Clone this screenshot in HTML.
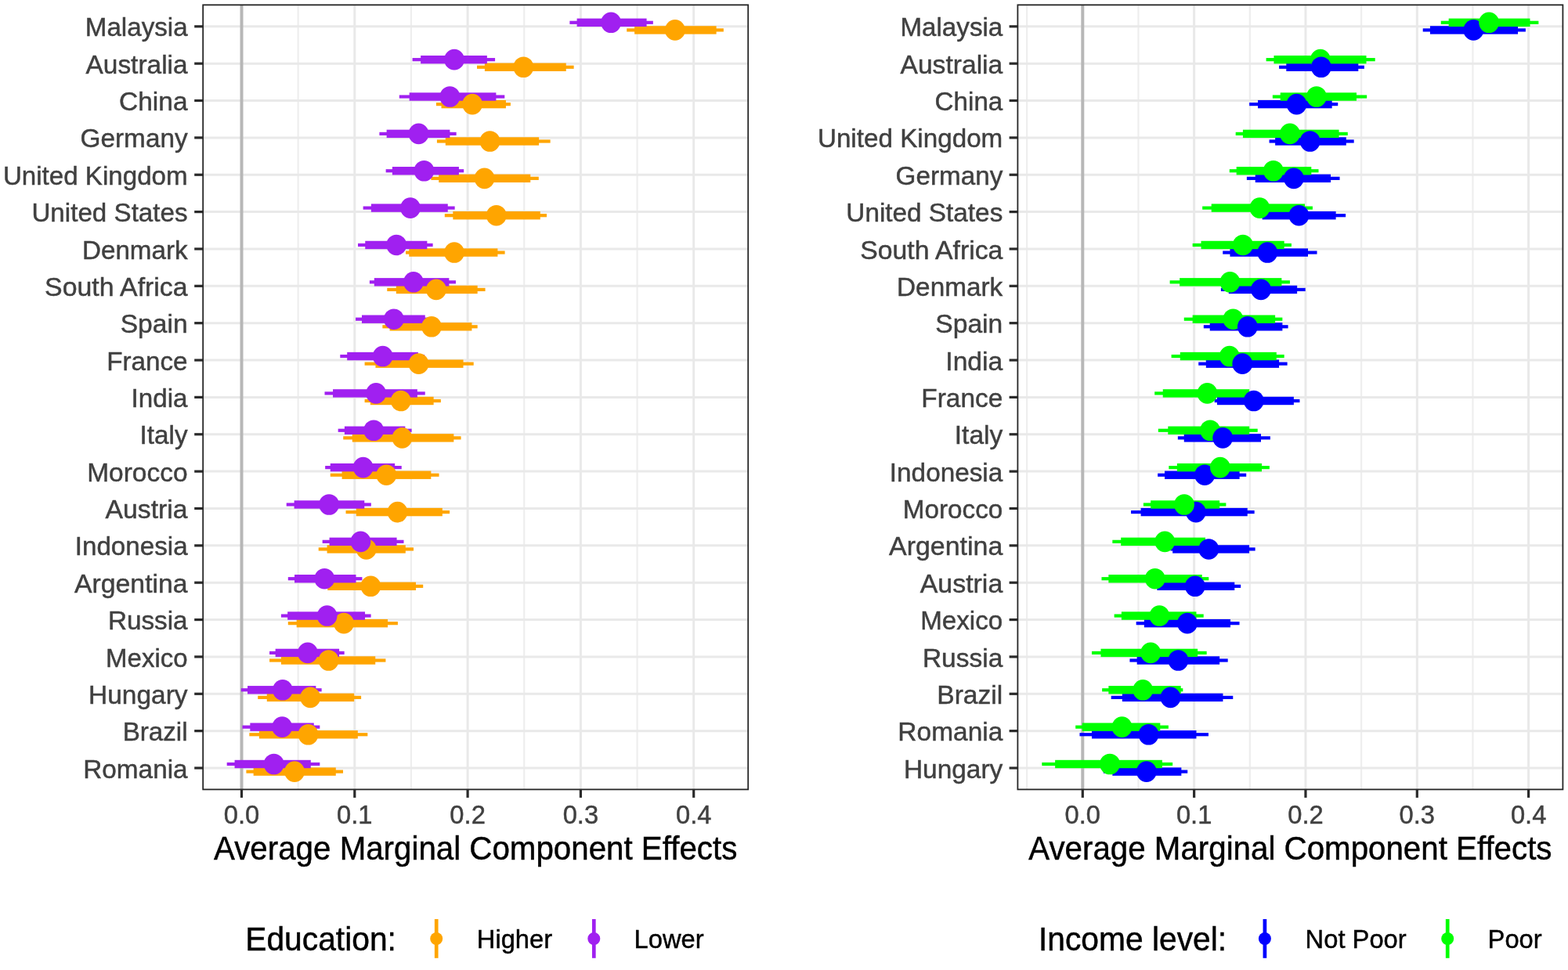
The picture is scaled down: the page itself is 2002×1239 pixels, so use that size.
<!DOCTYPE html><html><head><meta charset="utf-8"><title>AMCE plot</title>
<style>html,body{margin:0;padding:0;background:#fff;}svg{display:block;}text{font-family:'Liberation Sans', Arial, Helvetica, sans-serif;stroke-width:0.45px;}</style></head><body>
<svg width="2002" height="1239" viewBox="0 0 2002 1239">
<rect x="0" y="0" width="2002" height="1239" fill="#fff"/>
<clipPath id="clipL"><rect x="259.2" y="6.3" width="696" height="1002.1"/></clipPath>
<g clip-path="url(#clipL)">
<line x1="380.65" y1="6.3" x2="380.65" y2="1008.4" stroke="#EEEEEE" stroke-width="2.2"/>
<line x1="524.95" y1="6.3" x2="524.95" y2="1008.4" stroke="#EEEEEE" stroke-width="2.2"/>
<line x1="669.25" y1="6.3" x2="669.25" y2="1008.4" stroke="#EEEEEE" stroke-width="2.2"/>
<line x1="813.55" y1="6.3" x2="813.55" y2="1008.4" stroke="#EEEEEE" stroke-width="2.2"/>
<line x1="259.2" y1="33.8" x2="955.2" y2="33.8" stroke="#E9E9E9" stroke-width="3.0"/>
<line x1="259.2" y1="81.16" x2="955.2" y2="81.16" stroke="#E9E9E9" stroke-width="3.0"/>
<line x1="259.2" y1="128.52" x2="955.2" y2="128.52" stroke="#E9E9E9" stroke-width="3.0"/>
<line x1="259.2" y1="175.88" x2="955.2" y2="175.88" stroke="#E9E9E9" stroke-width="3.0"/>
<line x1="259.2" y1="223.24" x2="955.2" y2="223.24" stroke="#E9E9E9" stroke-width="3.0"/>
<line x1="259.2" y1="270.6" x2="955.2" y2="270.6" stroke="#E9E9E9" stroke-width="3.0"/>
<line x1="259.2" y1="317.96" x2="955.2" y2="317.96" stroke="#E9E9E9" stroke-width="3.0"/>
<line x1="259.2" y1="365.32" x2="955.2" y2="365.32" stroke="#E9E9E9" stroke-width="3.0"/>
<line x1="259.2" y1="412.68" x2="955.2" y2="412.68" stroke="#E9E9E9" stroke-width="3.0"/>
<line x1="259.2" y1="460.04" x2="955.2" y2="460.04" stroke="#E9E9E9" stroke-width="3.0"/>
<line x1="259.2" y1="507.4" x2="955.2" y2="507.4" stroke="#E9E9E9" stroke-width="3.0"/>
<line x1="259.2" y1="554.76" x2="955.2" y2="554.76" stroke="#E9E9E9" stroke-width="3.0"/>
<line x1="259.2" y1="602.12" x2="955.2" y2="602.12" stroke="#E9E9E9" stroke-width="3.0"/>
<line x1="259.2" y1="649.48" x2="955.2" y2="649.48" stroke="#E9E9E9" stroke-width="3.0"/>
<line x1="259.2" y1="696.84" x2="955.2" y2="696.84" stroke="#E9E9E9" stroke-width="3.0"/>
<line x1="259.2" y1="744.2" x2="955.2" y2="744.2" stroke="#E9E9E9" stroke-width="3.0"/>
<line x1="259.2" y1="791.56" x2="955.2" y2="791.56" stroke="#E9E9E9" stroke-width="3.0"/>
<line x1="259.2" y1="838.92" x2="955.2" y2="838.92" stroke="#E9E9E9" stroke-width="3.0"/>
<line x1="259.2" y1="886.28" x2="955.2" y2="886.28" stroke="#E9E9E9" stroke-width="3.0"/>
<line x1="259.2" y1="933.64" x2="955.2" y2="933.64" stroke="#E9E9E9" stroke-width="3.0"/>
<line x1="259.2" y1="981" x2="955.2" y2="981" stroke="#E9E9E9" stroke-width="3.0"/>
<line x1="452.8" y1="6.3" x2="452.8" y2="1008.4" stroke="#E9E9E9" stroke-width="3.0"/>
<line x1="597.1" y1="6.3" x2="597.1" y2="1008.4" stroke="#E9E9E9" stroke-width="3.0"/>
<line x1="741.4" y1="6.3" x2="741.4" y2="1008.4" stroke="#E9E9E9" stroke-width="3.0"/>
<line x1="885.7" y1="6.3" x2="885.7" y2="1008.4" stroke="#E9E9E9" stroke-width="3.0"/>
<line x1="308.5" y1="6.3" x2="308.5" y2="1008.4" stroke="#B7B7B7" stroke-width="4.0"/>
<rect x="800.22" y="36.3" width="123.63" height="4.2" fill="#FFA500"/>
<rect x="609.01" y="83.66" width="123.63" height="4.2" fill="#FFA500"/>
<rect x="556.92" y="131.02" width="94.95" height="4.2" fill="#FFA500"/>
<rect x="557.91" y="178.38" width="144.73" height="4.2" fill="#FFA500"/>
<rect x="550.33" y="225.74" width="137.47" height="4.2" fill="#FFA500"/>
<rect x="567.8" y="273.1" width="130.22" height="4.2" fill="#FFA500"/>
<rect x="518.02" y="320.46" width="126.59" height="4.2" fill="#FFA500"/>
<rect x="494.29" y="367.82" width="125.27" height="4.2" fill="#FFA500"/>
<rect x="488.35" y="415.18" width="121.32" height="4.2" fill="#FFA500"/>
<rect x="465.6" y="462.54" width="139.12" height="4.2" fill="#FFA500"/>
<rect x="465.6" y="509.9" width="97.25" height="4.2" fill="#FFA500"/>
<rect x="438.24" y="557.26" width="150.33" height="4.2" fill="#FFA500"/>
<rect x="421.76" y="604.62" width="138.79" height="4.2" fill="#FFA500"/>
<rect x="441.54" y="651.98" width="132.53" height="4.2" fill="#FFA500"/>
<rect x="406.7" y="699.34" width="121.32" height="4.2" fill="#FFA500"/>
<rect x="410" y="746.7" width="130.22" height="4.2" fill="#FFA500"/>
<rect x="367.8" y="794.06" width="140.11" height="4.2" fill="#FFA500"/>
<rect x="344.07" y="841.42" width="148.35" height="4.2" fill="#FFA500"/>
<rect x="329.23" y="888.78" width="131.87" height="4.2" fill="#FFA500"/>
<rect x="318.35" y="936.14" width="150.99" height="4.2" fill="#FFA500"/>
<rect x="314.4" y="983.5" width="123.63" height="4.2" fill="#FFA500"/>
<rect x="727.36" y="26.7" width="106.48" height="4.2" fill="#A020F0"/>
<rect x="526.59" y="74.06" width="105.49" height="4.2" fill="#A020F0"/>
<rect x="509.78" y="121.42" width="134.51" height="4.2" fill="#A020F0"/>
<rect x="484.4" y="168.78" width="98.24" height="4.2" fill="#A020F0"/>
<rect x="492.64" y="216.14" width="99.56" height="4.2" fill="#A020F0"/>
<rect x="463.63" y="263.5" width="117.03" height="4.2" fill="#A020F0"/>
<rect x="457.03" y="310.86" width="95.6" height="4.2" fill="#A020F0"/>
<rect x="471.87" y="358.22" width="110.11" height="4.2" fill="#A020F0"/>
<rect x="454.07" y="405.58" width="96.26" height="4.2" fill="#A020F0"/>
<rect x="434.29" y="452.94" width="107.8" height="4.2" fill="#A020F0"/>
<rect x="414.51" y="500.3" width="128.24" height="4.2" fill="#A020F0"/>
<rect x="431.65" y="547.66" width="93.96" height="4.2" fill="#A020F0"/>
<rect x="415.16" y="595.02" width="97.58" height="4.2" fill="#A020F0"/>
<rect x="365.71" y="642.38" width="108.13" height="4.2" fill="#A020F0"/>
<rect x="411.65" y="689.74" width="103.85" height="4.2" fill="#A020F0"/>
<rect x="367.8" y="737.1" width="94.62" height="4.2" fill="#A020F0"/>
<rect x="358.9" y="784.46" width="114.73" height="4.2" fill="#A020F0"/>
<rect x="344.07" y="831.82" width="95.6" height="4.2" fill="#A020F0"/>
<rect x="307.8" y="879.18" width="102.86" height="4.2" fill="#A020F0"/>
<rect x="309.45" y="926.54" width="98.9" height="4.2" fill="#A020F0"/>
<rect x="289.67" y="973.9" width="118.68" height="4.2" fill="#A020F0"/>
<rect x="810.11" y="33.2" width="104.51" height="10.4" fill="#FFA500"/>
<rect x="618.9" y="80.56" width="103.85" height="10.4" fill="#FFA500"/>
<rect x="563.52" y="127.92" width="82.42" height="10.4" fill="#FFA500"/>
<rect x="568.79" y="175.28" width="119.34" height="10.4" fill="#FFA500"/>
<rect x="560.22" y="222.64" width="117.03" height="10.4" fill="#FFA500"/>
<rect x="578.35" y="270" width="111.43" height="10.4" fill="#FFA500"/>
<rect x="522.31" y="317.36" width="113.08" height="10.4" fill="#FFA500"/>
<rect x="505.82" y="364.72" width="103.85" height="10.4" fill="#FFA500"/>
<rect x="497.58" y="412.08" width="104.84" height="10.4" fill="#FFA500"/>
<rect x="479.45" y="459.44" width="112.09" height="10.4" fill="#FFA500"/>
<rect x="472.86" y="506.8" width="80.77" height="10.4" fill="#FFA500"/>
<rect x="449.78" y="554.16" width="129.56" height="10.4" fill="#FFA500"/>
<rect x="436.59" y="601.52" width="113.74" height="10.4" fill="#FFA500"/>
<rect x="454.73" y="648.88" width="110.11" height="10.4" fill="#FFA500"/>
<rect x="417.58" y="696.24" width="100.22" height="10.4" fill="#FFA500"/>
<rect x="418.24" y="743.6" width="112.75" height="10.4" fill="#FFA500"/>
<rect x="378.68" y="790.96" width="116.37" height="10.4" fill="#FFA500"/>
<rect x="358.9" y="838.32" width="120.33" height="10.4" fill="#FFA500"/>
<rect x="340.77" y="885.68" width="111.43" height="10.4" fill="#FFA500"/>
<rect x="330.88" y="933.04" width="125.93" height="10.4" fill="#FFA500"/>
<rect x="323.63" y="980.4" width="105.16" height="10.4" fill="#FFA500"/>
<rect x="736.59" y="23.6" width="89.01" height="10.4" fill="#A020F0"/>
<rect x="537.14" y="70.96" width="84.73" height="10.4" fill="#A020F0"/>
<rect x="522.64" y="118.32" width="110.77" height="10.4" fill="#A020F0"/>
<rect x="493.63" y="165.68" width="80.77" height="10.4" fill="#A020F0"/>
<rect x="500.88" y="213.04" width="85.05" height="10.4" fill="#A020F0"/>
<rect x="473.85" y="260.4" width="97.91" height="10.4" fill="#A020F0"/>
<rect x="466.26" y="307.76" width="79.12" height="10.4" fill="#A020F0"/>
<rect x="477.8" y="355.12" width="95.6" height="10.4" fill="#A020F0"/>
<rect x="461.98" y="402.48" width="80.77" height="10.4" fill="#A020F0"/>
<rect x="443.19" y="449.84" width="90.66" height="10.4" fill="#A020F0"/>
<rect x="425.05" y="497.2" width="107.8" height="10.4" fill="#A020F0"/>
<rect x="439.89" y="544.56" width="77.47" height="10.4" fill="#A020F0"/>
<rect x="421.76" y="591.92" width="82.42" height="10.4" fill="#A020F0"/>
<rect x="375.6" y="639.28" width="89.67" height="10.4" fill="#A020F0"/>
<rect x="420.55" y="686.64" width="86.04" height="10.4" fill="#A020F0"/>
<rect x="376.04" y="734" width="78.46" height="10.4" fill="#A020F0"/>
<rect x="367.14" y="781.36" width="98.9" height="10.4" fill="#A020F0"/>
<rect x="351.65" y="828.72" width="81.43" height="10.4" fill="#A020F0"/>
<rect x="316.04" y="876.08" width="87.36" height="10.4" fill="#A020F0"/>
<rect x="319.34" y="923.44" width="81.43" height="10.4" fill="#A020F0"/>
<rect x="299.56" y="970.8" width="97.25" height="10.4" fill="#A020F0"/>
<ellipse cx="861.87" cy="38.4" rx="12.9" ry="13.3" fill="#FFA500"/>
<ellipse cx="780.11" cy="28.8" rx="12.9" ry="13.3" fill="#A020F0"/>
<ellipse cx="668.35" cy="85.76" rx="12.9" ry="13.3" fill="#FFA500"/>
<ellipse cx="580" cy="76.16" rx="12.9" ry="13.3" fill="#A020F0"/>
<ellipse cx="603.08" cy="133.12" rx="12.9" ry="13.3" fill="#FFA500"/>
<ellipse cx="574.4" cy="123.52" rx="12.9" ry="13.3" fill="#A020F0"/>
<ellipse cx="625.49" cy="180.48" rx="12.9" ry="13.3" fill="#FFA500"/>
<ellipse cx="534.51" cy="170.88" rx="12.9" ry="13.3" fill="#A020F0"/>
<ellipse cx="618.57" cy="227.84" rx="12.9" ry="13.3" fill="#FFA500"/>
<ellipse cx="541.43" cy="218.24" rx="12.9" ry="13.3" fill="#A020F0"/>
<ellipse cx="633.74" cy="275.2" rx="12.9" ry="13.3" fill="#FFA500"/>
<ellipse cx="523.96" cy="265.6" rx="12.9" ry="13.3" fill="#A020F0"/>
<ellipse cx="580" cy="322.56" rx="12.9" ry="13.3" fill="#FFA500"/>
<ellipse cx="506.15" cy="312.96" rx="12.9" ry="13.3" fill="#A020F0"/>
<ellipse cx="556.92" cy="369.92" rx="12.9" ry="13.3" fill="#FFA500"/>
<ellipse cx="527.91" cy="360.32" rx="12.9" ry="13.3" fill="#A020F0"/>
<ellipse cx="550.99" cy="417.28" rx="12.9" ry="13.3" fill="#FFA500"/>
<ellipse cx="502.86" cy="407.68" rx="12.9" ry="13.3" fill="#A020F0"/>
<ellipse cx="534.51" cy="464.64" rx="12.9" ry="13.3" fill="#FFA500"/>
<ellipse cx="488.68" cy="455.04" rx="12.9" ry="13.3" fill="#A020F0"/>
<ellipse cx="511.76" cy="512" rx="12.9" ry="13.3" fill="#FFA500"/>
<ellipse cx="480.11" cy="502.4" rx="12.9" ry="13.3" fill="#A020F0"/>
<ellipse cx="513.41" cy="559.36" rx="12.9" ry="13.3" fill="#FFA500"/>
<ellipse cx="477.14" cy="549.76" rx="12.9" ry="13.3" fill="#A020F0"/>
<ellipse cx="493.3" cy="606.72" rx="12.9" ry="13.3" fill="#FFA500"/>
<ellipse cx="463.63" cy="597.12" rx="12.9" ry="13.3" fill="#A020F0"/>
<ellipse cx="507.47" cy="654.08" rx="12.9" ry="13.3" fill="#FFA500"/>
<ellipse cx="420.11" cy="644.48" rx="12.9" ry="13.3" fill="#A020F0"/>
<ellipse cx="467.69" cy="701.44" rx="12.9" ry="13.3" fill="#FFA500"/>
<ellipse cx="460.44" cy="691.84" rx="12.9" ry="13.3" fill="#A020F0"/>
<ellipse cx="473.3" cy="748.8" rx="12.9" ry="13.3" fill="#FFA500"/>
<ellipse cx="414.29" cy="739.2" rx="12.9" ry="13.3" fill="#A020F0"/>
<ellipse cx="439.01" cy="796.16" rx="12.9" ry="13.3" fill="#FFA500"/>
<ellipse cx="417.58" cy="786.56" rx="12.9" ry="13.3" fill="#A020F0"/>
<ellipse cx="419.56" cy="843.52" rx="12.9" ry="13.3" fill="#FFA500"/>
<ellipse cx="392.86" cy="833.92" rx="12.9" ry="13.3" fill="#A020F0"/>
<ellipse cx="396.15" cy="890.88" rx="12.9" ry="13.3" fill="#FFA500"/>
<ellipse cx="360.88" cy="881.28" rx="12.9" ry="13.3" fill="#A020F0"/>
<ellipse cx="393.52" cy="938.24" rx="12.9" ry="13.3" fill="#FFA500"/>
<ellipse cx="360.22" cy="928.64" rx="12.9" ry="13.3" fill="#A020F0"/>
<ellipse cx="376.04" cy="985.6" rx="12.9" ry="13.3" fill="#FFA500"/>
<ellipse cx="349.67" cy="976" rx="12.9" ry="13.3" fill="#A020F0"/>
</g>
<rect x="259.2" y="6.3" width="696" height="1002.1" fill="none" stroke="#262626" stroke-width="1.8"/>
<line x1="248.2" y1="33.8" x2="259.2" y2="33.8" stroke="#2a2a2a" stroke-width="3.2"/>
<text transform="translate(239.6 46.4) scale(1.0137 1.04)" font-size="32.7" fill="#404040" stroke="#404040" text-anchor="end">Malaysia</text>
<line x1="248.2" y1="81.16" x2="259.2" y2="81.16" stroke="#2a2a2a" stroke-width="3.2"/>
<text transform="translate(239.6 93.76) scale(1.0231 1.04)" font-size="32.7" fill="#404040" stroke="#404040" text-anchor="end">Australia</text>
<line x1="248.2" y1="128.52" x2="259.2" y2="128.52" stroke="#2a2a2a" stroke-width="3.2"/>
<text transform="translate(239.6 141.12) scale(1.0259 1.04)" font-size="32.7" fill="#404040" stroke="#404040" text-anchor="end">China</text>
<line x1="248.2" y1="175.88" x2="259.2" y2="175.88" stroke="#2a2a2a" stroke-width="3.2"/>
<text transform="translate(239.6 188.48) scale(1.0195 1.04)" font-size="32.7" fill="#404040" stroke="#404040" text-anchor="end">Germany</text>
<line x1="248.2" y1="223.24" x2="259.2" y2="223.24" stroke="#2a2a2a" stroke-width="3.2"/>
<text transform="translate(239.6 235.84) scale(1.0135 1.04)" font-size="32.7" fill="#404040" stroke="#404040" text-anchor="end">United Kingdom</text>
<line x1="248.2" y1="270.6" x2="259.2" y2="270.6" stroke="#2a2a2a" stroke-width="3.2"/>
<text transform="translate(239.6 283.2) scale(1.015 1.04)" font-size="32.7" fill="#404040" stroke="#404040" text-anchor="end">United States</text>
<line x1="248.2" y1="317.96" x2="259.2" y2="317.96" stroke="#2a2a2a" stroke-width="3.2"/>
<text transform="translate(239.6 330.56) scale(1.0154 1.04)" font-size="32.7" fill="#404040" stroke="#404040" text-anchor="end">Denmark</text>
<line x1="248.2" y1="365.32" x2="259.2" y2="365.32" stroke="#2a2a2a" stroke-width="3.2"/>
<text transform="translate(239.6 377.92) scale(1.0357 1.04)" font-size="32.7" fill="#404040" stroke="#404040" text-anchor="end">South Africa</text>
<line x1="248.2" y1="412.68" x2="259.2" y2="412.68" stroke="#2a2a2a" stroke-width="3.2"/>
<text transform="translate(239.6 425.28) scale(1.0275 1.04)" font-size="32.7" fill="#404040" stroke="#404040" text-anchor="end">Spain</text>
<line x1="248.2" y1="460.04" x2="259.2" y2="460.04" stroke="#2a2a2a" stroke-width="3.2"/>
<text transform="translate(239.6 472.64) scale(1.0163 1.04)" font-size="32.7" fill="#404040" stroke="#404040" text-anchor="end">France</text>
<line x1="248.2" y1="507.4" x2="259.2" y2="507.4" stroke="#2a2a2a" stroke-width="3.2"/>
<text transform="translate(239.6 520) scale(1.0167 1.04)" font-size="32.7" fill="#404040" stroke="#404040" text-anchor="end">India</text>
<line x1="248.2" y1="554.76" x2="259.2" y2="554.76" stroke="#2a2a2a" stroke-width="3.2"/>
<text transform="translate(239.6 567.36) scale(1.0172 1.04)" font-size="32.7" fill="#404040" stroke="#404040" text-anchor="end">Italy</text>
<line x1="248.2" y1="602.12" x2="259.2" y2="602.12" stroke="#2a2a2a" stroke-width="3.2"/>
<text transform="translate(239.6 614.72) scale(1.0246 1.04)" font-size="32.7" fill="#404040" stroke="#404040" text-anchor="end">Morocco</text>
<line x1="248.2" y1="649.48" x2="259.2" y2="649.48" stroke="#2a2a2a" stroke-width="3.2"/>
<text transform="translate(239.6 662.08) scale(1.0323 1.04)" font-size="32.7" fill="#404040" stroke="#404040" text-anchor="end">Austria</text>
<line x1="248.2" y1="696.84" x2="259.2" y2="696.84" stroke="#2a2a2a" stroke-width="3.2"/>
<text transform="translate(239.6 709.44) scale(1.0146 1.04)" font-size="32.7" fill="#404040" stroke="#404040" text-anchor="end">Indonesia</text>
<line x1="248.2" y1="744.2" x2="259.2" y2="744.2" stroke="#2a2a2a" stroke-width="3.2"/>
<text transform="translate(239.6 756.8) scale(1.0336 1.04)" font-size="32.7" fill="#404040" stroke="#404040" text-anchor="end">Argentina</text>
<line x1="248.2" y1="791.56" x2="259.2" y2="791.56" stroke="#2a2a2a" stroke-width="3.2"/>
<text transform="translate(239.6 804.16) scale(1.0179 1.04)" font-size="32.7" fill="#404040" stroke="#404040" text-anchor="end">Russia</text>
<line x1="248.2" y1="838.92" x2="259.2" y2="838.92" stroke="#2a2a2a" stroke-width="3.2"/>
<text transform="translate(239.6 851.52) scale(1.009 1.04)" font-size="32.7" fill="#404040" stroke="#404040" text-anchor="end">Mexico</text>
<line x1="248.2" y1="886.28" x2="259.2" y2="886.28" stroke="#2a2a2a" stroke-width="3.2"/>
<text transform="translate(239.6 898.88) scale(1.0246 1.04)" font-size="32.7" fill="#404040" stroke="#404040" text-anchor="end">Hungary</text>
<line x1="248.2" y1="933.64" x2="259.2" y2="933.64" stroke="#2a2a2a" stroke-width="3.2"/>
<text transform="translate(239.6 946.24) scale(1.0141 1.04)" font-size="32.7" fill="#404040" stroke="#404040" text-anchor="end">Brazil</text>
<line x1="248.2" y1="981" x2="259.2" y2="981" stroke="#2a2a2a" stroke-width="3.2"/>
<text transform="translate(239.6 993.6) scale(1.019 1.04)" font-size="32.7" fill="#404040" stroke="#404040" text-anchor="end">Romania</text>
<line x1="308.5" y1="1008.4" x2="308.5" y2="1018.9" stroke="#2a2a2a" stroke-width="3.2"/>
<text transform="translate(308.5 1052.1) scale(1 1.04)" font-size="32.7" fill="#404040" stroke="#404040" text-anchor="middle">0.0</text>
<line x1="452.8" y1="1008.4" x2="452.8" y2="1018.9" stroke="#2a2a2a" stroke-width="3.2"/>
<text transform="translate(452.8 1052.1) scale(1 1.04)" font-size="32.7" fill="#404040" stroke="#404040" text-anchor="middle">0.1</text>
<line x1="597.1" y1="1008.4" x2="597.1" y2="1018.9" stroke="#2a2a2a" stroke-width="3.2"/>
<text transform="translate(597.1 1052.1) scale(1 1.04)" font-size="32.7" fill="#404040" stroke="#404040" text-anchor="middle">0.2</text>
<line x1="741.4" y1="1008.4" x2="741.4" y2="1018.9" stroke="#2a2a2a" stroke-width="3.2"/>
<text transform="translate(741.4 1052.1) scale(1 1.04)" font-size="32.7" fill="#404040" stroke="#404040" text-anchor="middle">0.3</text>
<line x1="885.7" y1="1008.4" x2="885.7" y2="1018.9" stroke="#2a2a2a" stroke-width="3.2"/>
<text transform="translate(885.7 1052.1) scale(1 1.04)" font-size="32.7" fill="#404040" stroke="#404040" text-anchor="middle">0.4</text>
<text transform="translate(607.2 1097.8) scale(1 1.04)" font-size="40.3" fill="#000" stroke="#000" text-anchor="middle">Average Marginal Component Effects</text>
<clipPath id="clipR"><rect x="1299.4" y="6.3" width="696" height="1002.1"/></clipPath>
<g clip-path="url(#clipR)">
<line x1="1311.13" y1="6.3" x2="1311.13" y2="1008.4" stroke="#EEEEEE" stroke-width="2.2"/>
<line x1="1453.46" y1="6.3" x2="1453.46" y2="1008.4" stroke="#EEEEEE" stroke-width="2.2"/>
<line x1="1595.8" y1="6.3" x2="1595.8" y2="1008.4" stroke="#EEEEEE" stroke-width="2.2"/>
<line x1="1738.12" y1="6.3" x2="1738.12" y2="1008.4" stroke="#EEEEEE" stroke-width="2.2"/>
<line x1="1880.45" y1="6.3" x2="1880.45" y2="1008.4" stroke="#EEEEEE" stroke-width="2.2"/>
<line x1="1299.4" y1="33.8" x2="1995.4" y2="33.8" stroke="#E9E9E9" stroke-width="3.0"/>
<line x1="1299.4" y1="81.16" x2="1995.4" y2="81.16" stroke="#E9E9E9" stroke-width="3.0"/>
<line x1="1299.4" y1="128.52" x2="1995.4" y2="128.52" stroke="#E9E9E9" stroke-width="3.0"/>
<line x1="1299.4" y1="175.88" x2="1995.4" y2="175.88" stroke="#E9E9E9" stroke-width="3.0"/>
<line x1="1299.4" y1="223.24" x2="1995.4" y2="223.24" stroke="#E9E9E9" stroke-width="3.0"/>
<line x1="1299.4" y1="270.6" x2="1995.4" y2="270.6" stroke="#E9E9E9" stroke-width="3.0"/>
<line x1="1299.4" y1="317.96" x2="1995.4" y2="317.96" stroke="#E9E9E9" stroke-width="3.0"/>
<line x1="1299.4" y1="365.32" x2="1995.4" y2="365.32" stroke="#E9E9E9" stroke-width="3.0"/>
<line x1="1299.4" y1="412.68" x2="1995.4" y2="412.68" stroke="#E9E9E9" stroke-width="3.0"/>
<line x1="1299.4" y1="460.04" x2="1995.4" y2="460.04" stroke="#E9E9E9" stroke-width="3.0"/>
<line x1="1299.4" y1="507.4" x2="1995.4" y2="507.4" stroke="#E9E9E9" stroke-width="3.0"/>
<line x1="1299.4" y1="554.76" x2="1995.4" y2="554.76" stroke="#E9E9E9" stroke-width="3.0"/>
<line x1="1299.4" y1="602.12" x2="1995.4" y2="602.12" stroke="#E9E9E9" stroke-width="3.0"/>
<line x1="1299.4" y1="649.48" x2="1995.4" y2="649.48" stroke="#E9E9E9" stroke-width="3.0"/>
<line x1="1299.4" y1="696.84" x2="1995.4" y2="696.84" stroke="#E9E9E9" stroke-width="3.0"/>
<line x1="1299.4" y1="744.2" x2="1995.4" y2="744.2" stroke="#E9E9E9" stroke-width="3.0"/>
<line x1="1299.4" y1="791.56" x2="1995.4" y2="791.56" stroke="#E9E9E9" stroke-width="3.0"/>
<line x1="1299.4" y1="838.92" x2="1995.4" y2="838.92" stroke="#E9E9E9" stroke-width="3.0"/>
<line x1="1299.4" y1="886.28" x2="1995.4" y2="886.28" stroke="#E9E9E9" stroke-width="3.0"/>
<line x1="1299.4" y1="933.64" x2="1995.4" y2="933.64" stroke="#E9E9E9" stroke-width="3.0"/>
<line x1="1299.4" y1="981" x2="1995.4" y2="981" stroke="#E9E9E9" stroke-width="3.0"/>
<line x1="1524.63" y1="6.3" x2="1524.63" y2="1008.4" stroke="#E9E9E9" stroke-width="3.0"/>
<line x1="1666.96" y1="6.3" x2="1666.96" y2="1008.4" stroke="#E9E9E9" stroke-width="3.0"/>
<line x1="1809.29" y1="6.3" x2="1809.29" y2="1008.4" stroke="#E9E9E9" stroke-width="3.0"/>
<line x1="1951.62" y1="6.3" x2="1951.62" y2="1008.4" stroke="#E9E9E9" stroke-width="3.0"/>
<line x1="1382.3" y1="6.3" x2="1382.3" y2="1008.4" stroke="#B7B7B7" stroke-width="4.0"/>
<rect x="1816.7" y="36.3" width="131.21" height="4.2" fill="#0000FF"/>
<rect x="1633.08" y="83.66" width="108.79" height="4.2" fill="#0000FF"/>
<rect x="1595.16" y="131.02" width="113.08" height="4.2" fill="#0000FF"/>
<rect x="1620.55" y="178.38" width="108.13" height="4.2" fill="#0000FF"/>
<rect x="1591.87" y="225.74" width="118.68" height="4.2" fill="#0000FF"/>
<rect x="1608.35" y="273.1" width="109.78" height="4.2" fill="#0000FF"/>
<rect x="1561.21" y="320.46" width="120.33" height="4.2" fill="#0000FF"/>
<rect x="1558.9" y="367.82" width="107.8" height="4.2" fill="#0000FF"/>
<rect x="1536.81" y="415.18" width="107.8" height="4.2" fill="#0000FF"/>
<rect x="1530.22" y="462.54" width="113.41" height="4.2" fill="#0000FF"/>
<rect x="1550.66" y="509.9" width="108.79" height="4.2" fill="#0000FF"/>
<rect x="1503.85" y="557.26" width="118.02" height="4.2" fill="#0000FF"/>
<rect x="1478.13" y="604.62" width="113.08" height="4.2" fill="#0000FF"/>
<rect x="1444.07" y="651.98" width="157.58" height="4.2" fill="#0000FF"/>
<rect x="1494.51" y="699.34" width="108.13" height="4.2" fill="#0000FF"/>
<rect x="1474.73" y="746.7" width="109.45" height="4.2" fill="#0000FF"/>
<rect x="1450.66" y="794.06" width="131.87" height="4.2" fill="#0000FF"/>
<rect x="1442.42" y="841.42" width="125.27" height="4.2" fill="#0000FF"/>
<rect x="1418.68" y="888.78" width="155.6" height="4.2" fill="#0000FF"/>
<rect x="1378.46" y="936.14" width="164.51" height="4.2" fill="#0000FF"/>
<rect x="1408.79" y="983.5" width="107.47" height="4.2" fill="#0000FF"/>
<rect x="1839.78" y="26.7" width="124.62" height="4.2" fill="#00FF00"/>
<rect x="1616.59" y="74.06" width="139.12" height="4.2" fill="#00FF00"/>
<rect x="1624.84" y="121.42" width="120.33" height="4.2" fill="#00FF00"/>
<rect x="1577.69" y="168.78" width="143.08" height="4.2" fill="#00FF00"/>
<rect x="1569.78" y="216.14" width="113.74" height="4.2" fill="#00FF00"/>
<rect x="1535.16" y="263.5" width="140.77" height="4.2" fill="#00FF00"/>
<rect x="1522.64" y="310.86" width="126.26" height="4.2" fill="#00FF00"/>
<rect x="1493.63" y="358.22" width="153.3" height="4.2" fill="#00FF00"/>
<rect x="1511.76" y="405.58" width="125.6" height="4.2" fill="#00FF00"/>
<rect x="1495.6" y="452.94" width="144.07" height="4.2" fill="#00FF00"/>
<rect x="1474.18" y="500.3" width="129.23" height="4.2" fill="#00FF00"/>
<rect x="1478.79" y="547.66" width="126.92" height="4.2" fill="#00FF00"/>
<rect x="1492.31" y="595.02" width="128.57" height="4.2" fill="#00FF00"/>
<rect x="1459.89" y="642.38" width="105.49" height="4.2" fill="#00FF00"/>
<rect x="1420.33" y="689.74" width="123.63" height="4.2" fill="#00FF00"/>
<rect x="1406.48" y="737.1" width="136.81" height="4.2" fill="#00FF00"/>
<rect x="1422.64" y="784.46" width="114.07" height="4.2" fill="#00FF00"/>
<rect x="1393.96" y="831.82" width="146.7" height="4.2" fill="#00FF00"/>
<rect x="1407.14" y="879.18" width="103.19" height="4.2" fill="#00FF00"/>
<rect x="1373.19" y="926.54" width="118.68" height="4.2" fill="#00FF00"/>
<rect x="1330.33" y="973.9" width="166.81" height="4.2" fill="#00FF00"/>
<rect x="1825.93" y="33.2" width="112.09" height="10.4" fill="#0000FF"/>
<rect x="1642.31" y="80.56" width="91.98" height="10.4" fill="#0000FF"/>
<rect x="1606.04" y="127.92" width="94.62" height="10.4" fill="#0000FF"/>
<rect x="1628.13" y="175.28" width="90.66" height="10.4" fill="#0000FF"/>
<rect x="1602.75" y="222.64" width="96.26" height="10.4" fill="#0000FF"/>
<rect x="1611.65" y="270" width="93.96" height="10.4" fill="#0000FF"/>
<rect x="1570.44" y="317.36" width="99.56" height="10.4" fill="#0000FF"/>
<rect x="1568.79" y="364.72" width="87.36" height="10.4" fill="#0000FF"/>
<rect x="1544.73" y="412.08" width="92.64" height="10.4" fill="#0000FF"/>
<rect x="1539.78" y="459.44" width="93.3" height="10.4" fill="#0000FF"/>
<rect x="1553.96" y="506.8" width="97.91" height="10.4" fill="#0000FF"/>
<rect x="1511.76" y="554.16" width="98.24" height="10.4" fill="#0000FF"/>
<rect x="1487.03" y="601.52" width="95.6" height="10.4" fill="#0000FF"/>
<rect x="1456.59" y="648.88" width="136.15" height="10.4" fill="#0000FF"/>
<rect x="1497.14" y="696.24" width="97.91" height="10.4" fill="#0000FF"/>
<rect x="1477.36" y="743.6" width="98.9" height="10.4" fill="#0000FF"/>
<rect x="1460.88" y="790.96" width="110.11" height="10.4" fill="#0000FF"/>
<rect x="1451.65" y="838.32" width="105.49" height="10.4" fill="#0000FF"/>
<rect x="1432.86" y="885.68" width="128.57" height="10.4" fill="#0000FF"/>
<rect x="1393.96" y="933.04" width="133.52" height="10.4" fill="#0000FF"/>
<rect x="1420.33" y="980.4" width="88.02" height="10.4" fill="#0000FF"/>
<rect x="1849.67" y="23.6" width="103.85" height="10.4" fill="#00FF00"/>
<rect x="1626.48" y="70.96" width="118.02" height="10.4" fill="#00FF00"/>
<rect x="1634.73" y="118.32" width="97.25" height="10.4" fill="#00FF00"/>
<rect x="1586.92" y="165.68" width="122.64" height="10.4" fill="#00FF00"/>
<rect x="1578.68" y="213.04" width="95.6" height="10.4" fill="#00FF00"/>
<rect x="1546.7" y="260.4" width="119.34" height="10.4" fill="#00FF00"/>
<rect x="1533.52" y="307.76" width="106.15" height="10.4" fill="#00FF00"/>
<rect x="1506.15" y="355.12" width="130.22" height="10.4" fill="#00FF00"/>
<rect x="1522.64" y="402.48" width="105.49" height="10.4" fill="#00FF00"/>
<rect x="1506.81" y="449.84" width="122.97" height="10.4" fill="#00FF00"/>
<rect x="1484.73" y="497.2" width="110.44" height="10.4" fill="#00FF00"/>
<rect x="1491.32" y="544.56" width="103.85" height="10.4" fill="#00FF00"/>
<rect x="1502.86" y="591.92" width="108.13" height="10.4" fill="#00FF00"/>
<rect x="1469.12" y="639.28" width="88.02" height="10.4" fill="#00FF00"/>
<rect x="1431.21" y="686.64" width="107.8" height="10.4" fill="#00FF00"/>
<rect x="1415.38" y="734" width="119.34" height="10.4" fill="#00FF00"/>
<rect x="1431.87" y="781.36" width="95.6" height="10.4" fill="#00FF00"/>
<rect x="1405.49" y="828.72" width="123.63" height="10.4" fill="#00FF00"/>
<rect x="1415.38" y="876.08" width="92.31" height="10.4" fill="#00FF00"/>
<rect x="1381.76" y="923.44" width="99.56" height="10.4" fill="#00FF00"/>
<rect x="1347.14" y="970.8" width="136.81" height="10.4" fill="#00FF00"/>
<ellipse cx="1881.32" cy="38.4" rx="12.9" ry="13.3" fill="#0000FF"/>
<ellipse cx="1901.1" cy="28.8" rx="12.9" ry="13.3" fill="#00FF00"/>
<ellipse cx="1685.82" cy="76.16" rx="12.9" ry="13.3" fill="#00FF00"/>
<ellipse cx="1686.81" cy="85.76" rx="12.9" ry="13.3" fill="#0000FF"/>
<ellipse cx="1655.49" cy="133.12" rx="12.9" ry="13.3" fill="#0000FF"/>
<ellipse cx="1680.88" cy="123.52" rx="12.9" ry="13.3" fill="#00FF00"/>
<ellipse cx="1646.92" cy="170.88" rx="12.9" ry="13.3" fill="#00FF00"/>
<ellipse cx="1672.64" cy="180.48" rx="12.9" ry="13.3" fill="#0000FF"/>
<ellipse cx="1625.82" cy="218.24" rx="12.9" ry="13.3" fill="#00FF00"/>
<ellipse cx="1651.87" cy="227.84" rx="12.9" ry="13.3" fill="#0000FF"/>
<ellipse cx="1608.35" cy="265.6" rx="12.9" ry="13.3" fill="#00FF00"/>
<ellipse cx="1658.46" cy="275.2" rx="12.9" ry="13.3" fill="#0000FF"/>
<ellipse cx="1586.92" cy="312.96" rx="12.9" ry="13.3" fill="#00FF00"/>
<ellipse cx="1618.24" cy="322.56" rx="12.9" ry="13.3" fill="#0000FF"/>
<ellipse cx="1570.44" cy="360.32" rx="12.9" ry="13.3" fill="#00FF00"/>
<ellipse cx="1610" cy="369.92" rx="12.9" ry="13.3" fill="#0000FF"/>
<ellipse cx="1574.4" cy="407.68" rx="12.9" ry="13.3" fill="#00FF00"/>
<ellipse cx="1592.86" cy="417.28" rx="12.9" ry="13.3" fill="#0000FF"/>
<ellipse cx="1569.78" cy="455.04" rx="12.9" ry="13.3" fill="#00FF00"/>
<ellipse cx="1586.26" cy="464.64" rx="12.9" ry="13.3" fill="#0000FF"/>
<ellipse cx="1541.43" cy="502.4" rx="12.9" ry="13.3" fill="#00FF00"/>
<ellipse cx="1600.77" cy="512" rx="12.9" ry="13.3" fill="#0000FF"/>
<ellipse cx="1545.05" cy="549.76" rx="12.9" ry="13.3" fill="#00FF00"/>
<ellipse cx="1561.21" cy="559.36" rx="12.9" ry="13.3" fill="#0000FF"/>
<ellipse cx="1538.13" cy="606.72" rx="12.9" ry="13.3" fill="#0000FF"/>
<ellipse cx="1557.91" cy="597.12" rx="12.9" ry="13.3" fill="#00FF00"/>
<ellipse cx="1526.81" cy="654.08" rx="12.9" ry="13.3" fill="#0000FF"/>
<ellipse cx="1511.98" cy="644.48" rx="12.9" ry="13.3" fill="#00FF00"/>
<ellipse cx="1487.25" cy="691.84" rx="12.9" ry="13.3" fill="#00FF00"/>
<ellipse cx="1543.3" cy="701.44" rx="12.9" ry="13.3" fill="#0000FF"/>
<ellipse cx="1474.73" cy="739.2" rx="12.9" ry="13.3" fill="#00FF00"/>
<ellipse cx="1525.82" cy="748.8" rx="12.9" ry="13.3" fill="#0000FF"/>
<ellipse cx="1480.33" cy="786.56" rx="12.9" ry="13.3" fill="#00FF00"/>
<ellipse cx="1515.93" cy="796.16" rx="12.9" ry="13.3" fill="#0000FF"/>
<ellipse cx="1469.12" cy="833.92" rx="12.9" ry="13.3" fill="#00FF00"/>
<ellipse cx="1504.4" cy="843.52" rx="12.9" ry="13.3" fill="#0000FF"/>
<ellipse cx="1459.23" cy="881.28" rx="12.9" ry="13.3" fill="#00FF00"/>
<ellipse cx="1494.51" cy="890.88" rx="12.9" ry="13.3" fill="#0000FF"/>
<ellipse cx="1432.53" cy="928.64" rx="12.9" ry="13.3" fill="#00FF00"/>
<ellipse cx="1466.48" cy="938.24" rx="12.9" ry="13.3" fill="#0000FF"/>
<ellipse cx="1417.03" cy="976" rx="12.9" ry="13.3" fill="#00FF00"/>
<ellipse cx="1463.85" cy="985.6" rx="12.9" ry="13.3" fill="#0000FF"/>
</g>
<rect x="1299.4" y="6.3" width="696" height="1002.1" fill="none" stroke="#262626" stroke-width="1.8"/>
<line x1="1288.6" y1="33.8" x2="1299.4" y2="33.8" stroke="#2a2a2a" stroke-width="3.2"/>
<text transform="translate(1280.3 46.4) scale(1.0145 1.04)" font-size="32.7" fill="#404040" stroke="#404040" text-anchor="end">Malaysia</text>
<line x1="1288.6" y1="81.16" x2="1299.4" y2="81.16" stroke="#2a2a2a" stroke-width="3.2"/>
<text transform="translate(1280.3 93.76) scale(1.0289 1.04)" font-size="32.7" fill="#404040" stroke="#404040" text-anchor="end">Australia</text>
<line x1="1288.6" y1="128.52" x2="1299.4" y2="128.52" stroke="#2a2a2a" stroke-width="3.2"/>
<text transform="translate(1280.3 141.12) scale(1.0146 1.04)" font-size="32.7" fill="#404040" stroke="#404040" text-anchor="end">China</text>
<line x1="1288.6" y1="175.88" x2="1299.4" y2="175.88" stroke="#2a2a2a" stroke-width="3.2"/>
<text transform="translate(1280.3 188.48) scale(1.0167 1.04)" font-size="32.7" fill="#404040" stroke="#404040" text-anchor="end">United Kingdom</text>
<line x1="1288.6" y1="223.24" x2="1299.4" y2="223.24" stroke="#2a2a2a" stroke-width="3.2"/>
<text transform="translate(1280.3 235.84) scale(1.0173 1.04)" font-size="32.7" fill="#404040" stroke="#404040" text-anchor="end">Germany</text>
<line x1="1288.6" y1="270.6" x2="1299.4" y2="270.6" stroke="#2a2a2a" stroke-width="3.2"/>
<text transform="translate(1280.3 283.2) scale(1.0187 1.04)" font-size="32.7" fill="#404040" stroke="#404040" text-anchor="end">United States</text>
<line x1="1288.6" y1="317.96" x2="1299.4" y2="317.96" stroke="#2a2a2a" stroke-width="3.2"/>
<text transform="translate(1280.3 330.56) scale(1.0331 1.04)" font-size="32.7" fill="#404040" stroke="#404040" text-anchor="end">South Africa</text>
<line x1="1288.6" y1="365.32" x2="1299.4" y2="365.32" stroke="#2a2a2a" stroke-width="3.2"/>
<text transform="translate(1280.3 377.92) scale(1.02 1.04)" font-size="32.7" fill="#404040" stroke="#404040" text-anchor="end">Denmark</text>
<line x1="1288.6" y1="412.68" x2="1299.4" y2="412.68" stroke="#2a2a2a" stroke-width="3.2"/>
<text transform="translate(1280.3 425.28) scale(1.0291 1.04)" font-size="32.7" fill="#404040" stroke="#404040" text-anchor="end">Spain</text>
<line x1="1288.6" y1="460.04" x2="1299.4" y2="460.04" stroke="#2a2a2a" stroke-width="3.2"/>
<text transform="translate(1280.3 472.64) scale(1.0303 1.04)" font-size="32.7" fill="#404040" stroke="#404040" text-anchor="end">India</text>
<line x1="1288.6" y1="507.4" x2="1299.4" y2="507.4" stroke="#2a2a2a" stroke-width="3.2"/>
<text transform="translate(1280.3 520) scale(1.0224 1.04)" font-size="32.7" fill="#404040" stroke="#404040" text-anchor="end">France</text>
<line x1="1288.6" y1="554.76" x2="1299.4" y2="554.76" stroke="#2a2a2a" stroke-width="3.2"/>
<text transform="translate(1280.3 567.36) scale(1.0263 1.04)" font-size="32.7" fill="#404040" stroke="#404040" text-anchor="end">Italy</text>
<line x1="1288.6" y1="602.12" x2="1299.4" y2="602.12" stroke="#2a2a2a" stroke-width="3.2"/>
<text transform="translate(1280.3 614.72) scale(1.019 1.04)" font-size="32.7" fill="#404040" stroke="#404040" text-anchor="end">Indonesia</text>
<line x1="1288.6" y1="649.48" x2="1299.4" y2="649.48" stroke="#2a2a2a" stroke-width="3.2"/>
<text transform="translate(1280.3 662.08) scale(1.0172 1.04)" font-size="32.7" fill="#404040" stroke="#404040" text-anchor="end">Morocco</text>
<line x1="1288.6" y1="696.84" x2="1299.4" y2="696.84" stroke="#2a2a2a" stroke-width="3.2"/>
<text transform="translate(1280.3 709.44) scale(1.0381 1.04)" font-size="32.7" fill="#404040" stroke="#404040" text-anchor="end">Argentina</text>
<line x1="1288.6" y1="744.2" x2="1299.4" y2="744.2" stroke="#2a2a2a" stroke-width="3.2"/>
<text transform="translate(1280.3 756.8) scale(1.0385 1.04)" font-size="32.7" fill="#404040" stroke="#404040" text-anchor="end">Austria</text>
<line x1="1288.6" y1="791.56" x2="1299.4" y2="791.56" stroke="#2a2a2a" stroke-width="3.2"/>
<text transform="translate(1280.3 804.16) scale(1.015 1.04)" font-size="32.7" fill="#404040" stroke="#404040" text-anchor="end">Mexico</text>
<line x1="1288.6" y1="838.92" x2="1299.4" y2="838.92" stroke="#2a2a2a" stroke-width="3.2"/>
<text transform="translate(1280.3 851.52) scale(1.0242 1.04)" font-size="32.7" fill="#404040" stroke="#404040" text-anchor="end">Russia</text>
<line x1="1288.6" y1="886.28" x2="1299.4" y2="886.28" stroke="#2a2a2a" stroke-width="3.2"/>
<text transform="translate(1280.3 898.88) scale(1.0286 1.04)" font-size="32.7" fill="#404040" stroke="#404040" text-anchor="end">Brazil</text>
<line x1="1288.6" y1="933.64" x2="1299.4" y2="933.64" stroke="#2a2a2a" stroke-width="3.2"/>
<text transform="translate(1280.3 946.24) scale(1.0238 1.04)" font-size="32.7" fill="#404040" stroke="#404040" text-anchor="end">Romania</text>
<line x1="1288.6" y1="981" x2="1299.4" y2="981" stroke="#2a2a2a" stroke-width="3.2"/>
<text transform="translate(1280.3 993.6) scale(1.0231 1.04)" font-size="32.7" fill="#404040" stroke="#404040" text-anchor="end">Hungary</text>
<line x1="1382.3" y1="1008.4" x2="1382.3" y2="1018.9" stroke="#2a2a2a" stroke-width="3.2"/>
<text transform="translate(1382.3 1052.1) scale(1 1.04)" font-size="32.7" fill="#404040" stroke="#404040" text-anchor="middle">0.0</text>
<line x1="1524.63" y1="1008.4" x2="1524.63" y2="1018.9" stroke="#2a2a2a" stroke-width="3.2"/>
<text transform="translate(1524.63 1052.1) scale(1 1.04)" font-size="32.7" fill="#404040" stroke="#404040" text-anchor="middle">0.1</text>
<line x1="1666.96" y1="1008.4" x2="1666.96" y2="1018.9" stroke="#2a2a2a" stroke-width="3.2"/>
<text transform="translate(1666.96 1052.1) scale(1 1.04)" font-size="32.7" fill="#404040" stroke="#404040" text-anchor="middle">0.2</text>
<line x1="1809.29" y1="1008.4" x2="1809.29" y2="1018.9" stroke="#2a2a2a" stroke-width="3.2"/>
<text transform="translate(1809.29 1052.1) scale(1 1.04)" font-size="32.7" fill="#404040" stroke="#404040" text-anchor="middle">0.3</text>
<line x1="1951.62" y1="1008.4" x2="1951.62" y2="1018.9" stroke="#2a2a2a" stroke-width="3.2"/>
<text transform="translate(1951.62 1052.1) scale(1 1.04)" font-size="32.7" fill="#404040" stroke="#404040" text-anchor="middle">0.4</text>
<text transform="translate(1647.4 1097.8) scale(1 1.04)" font-size="40.3" fill="#000" stroke="#000" text-anchor="middle">Average Marginal Component Effects</text>
<text transform="translate(313.2 1213.7) scale(1 1.04)" font-size="40.8" fill="#000" stroke="#000">Education:</text>
<line x1="557.2" y1="1174" x2="557.2" y2="1223.8" stroke="#FFA500" stroke-width="4.7"/>
<circle cx="557.2" cy="1199" r="8.0" fill="#FFA500"/>
<text transform="translate(608.8 1210.8) scale(1 1.04)" font-size="32.7" fill="#000" stroke="#000">Higher</text>
<line x1="758.3" y1="1174" x2="758.3" y2="1223.8" stroke="#A020F0" stroke-width="4.7"/>
<circle cx="758.3" cy="1199" r="8.0" fill="#A020F0"/>
<text transform="translate(809.6 1210.8) scale(1 1.04)" font-size="32.7" fill="#000" stroke="#000">Lower</text>
<text transform="translate(1325.9 1213.7) scale(1 1.04)" font-size="40.8" fill="#000" stroke="#000">Income level:</text>
<line x1="1614.9" y1="1174" x2="1614.9" y2="1223.8" stroke="#0000FF" stroke-width="4.7"/>
<circle cx="1614.9" cy="1199" r="8.0" fill="#0000FF"/>
<text transform="translate(1666.6 1210.8) scale(1 1.04)" font-size="32.7" fill="#000" stroke="#000">Not Poor</text>
<line x1="1848.2" y1="1174" x2="1848.2" y2="1223.8" stroke="#00FF00" stroke-width="4.7"/>
<circle cx="1848.2" cy="1199" r="8.0" fill="#00FF00"/>
<text transform="translate(1899.6 1210.8) scale(1 1.04)" font-size="32.7" fill="#000" stroke="#000">Poor</text>
</svg></body></html>
